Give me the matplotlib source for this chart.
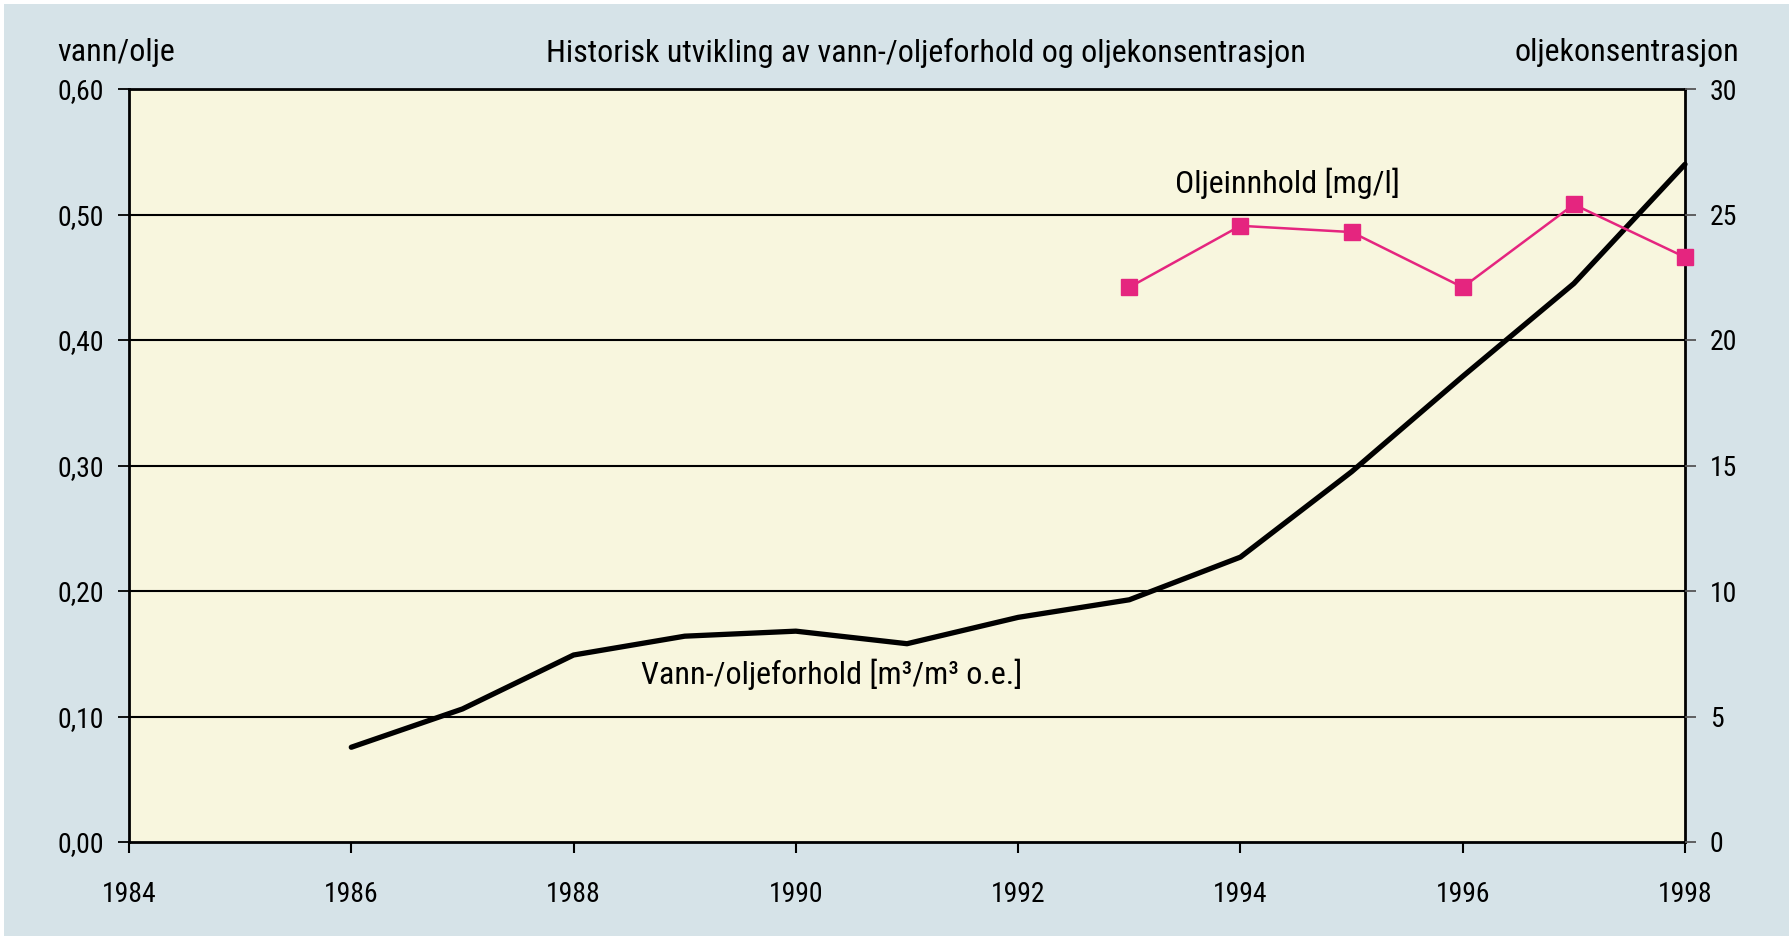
import matplotlib
matplotlib.use("Agg")
import matplotlib.pyplot as plt
from matplotlib.patches import Rectangle

plt.rcParams['font.family'] = ['Liberation Sans Narrow', 'Roboto Condensed', 'DejaVu Sans']

# Data
years_ratio = [1986, 1987, 1988, 1989, 1990, 1991, 1992, 1993, 1994, 1995, 1996, 1997, 1998]
ratio = [0.0755, 0.106, 0.149, 0.164, 0.168, 0.158, 0.179, 0.193, 0.227, 0.295, 0.371, 0.445, 0.540]
years_oil = [1993, 1994, 1995, 1996, 1997, 1998]
oil = [22.1, 24.55, 24.3, 22.1, 25.4, 23.3]
left_ticks = [0.0, 0.1, 0.2, 0.3, 0.4, 0.5, 0.6]
left_labels = ["0,00", "0,10", "0,20", "0,30", "0,40", "0,50", "0,60"]
right_ticks = [0, 5, 10, 15, 20, 25, 30]
x_ticks = [1984, 1986, 1988, 1990, 1992, 1994, 1996, 1998]

BG = '#d6e3e8'
PLOT_BG = '#f8f6de'
PINK = '#e5257f'
FS = 20
TFS = 23

fig = plt.figure(figsize=(17.9, 9.36), dpi=100, facecolor='white')
fig.patches.append(Rectangle((4/1790, 0), 1, 1 - 4/936, transform=fig.transFigure,
                             facecolor=BG, edgecolor='none', zorder=-10))

ax = fig.add_axes([129/1790, 1 - 842/936, (1685 - 129)/1790, (842 - 89)/936])
ax.set_facecolor(PLOT_BG)
ax.set_xlim(1984, 1998)
ax.set_ylim(0, 0.6)
for y in left_ticks[1:-1]:
    ax.axhline(y, color='black', lw=1.5, zorder=1)

ax.plot(years_ratio, ratio, color='black', lw=3.8, solid_capstyle='round',
        solid_joinstyle='round', zorder=3, clip_on=False)

ax.set_yticks(left_ticks)
ax.set_yticklabels(left_labels)
ax.set_xticks(x_ticks)
ax.set_xticklabels([str(x) for x in x_ticks])
ax.tick_params(axis='y', direction='out', length=8, width=1.3, pad=10, labelsize=FS, colors='black')
ax.tick_params(axis='x', direction='out', length=8, width=1.5, pad=20, labelsize=FS, colors='black')
for s in ax.spines.values():
    s.set_linewidth(2)
    s.set_color('black')

ax2 = ax.twinx()
ax2.set_ylim(0, 30)
ax2.set_yticks(right_ticks)
ax2.tick_params(axis='y', direction='out', length=8, width=1.3, pad=10, labelsize=FS,
                colors='#555555', labelcolor='black')
ax2.plot(years_oil, oil, color=PINK, lw=1.8, marker='s', markersize=11,
         markerfacecolor=PINK, markeredgecolor=PINK, zorder=4, clip_on=False)
for s in ax2.spines.values():
    s.set_visible(False)

ax.text(1994.42, 0.5245, "Oljeinnhold [mg/l]", ha='center', va='center', fontsize=TFS)
ax.text(1990.32, 0.1336, "Vann-/oljeforhold [m³/m³ o.e.]", ha='center', va='center', fontsize=TFS)

fig.text(57/1790, 1 - 52.5/936, "vann/olje", ha='left', va='center', fontsize=TFS)
fig.text(926/1790, 1 - 52.5/936, "Historisk utvikling av vann-/oljeforhold og oljekonsentrasjon",
         ha='center', va='center', fontsize=TFS)
fig.text(1739/1790, 1 - 52.5/936, "oljekonsentrasjon", ha='right', va='center', fontsize=TFS)

fig.savefig("out.png", dpi=100, facecolor=fig.get_facecolor())
